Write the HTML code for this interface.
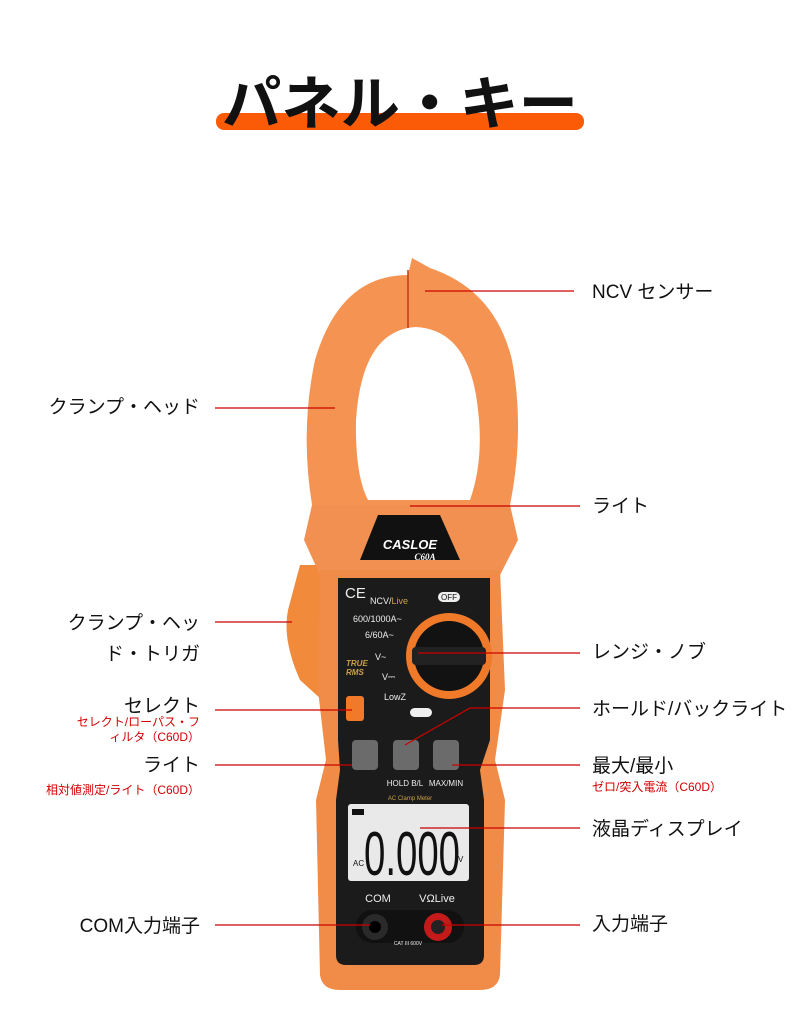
<!DOCTYPE html>
<html><head><meta charset="utf-8"><style>
html,body{margin:0;padding:0;background:#fff}
svg{display:block}
.l{font-family:"Liberation Sans","Noto Sans CJK JP",sans-serif;font-size:19px;fill:#111}
.r{font-family:"Liberation Sans","Noto Sans CJK JP",sans-serif;font-size:12px;fill:#d20000}
.w{font-family:"Liberation Sans",sans-serif;fill:#eee}
</style></head><body>
<svg width="800" height="1014" viewBox="0 0 800 1014" xmlns="http://www.w3.org/2000/svg">
<rect x="216" y="113" width="368" height="17" rx="8" fill="#fb5a06"/>
<text x="222" y="124" textLength="356" lengthAdjust="spacingAndGlyphs" font-family="Liberation Sans,'Noto Sans CJK JP',sans-serif" font-weight="bold" font-size="58" fill="#111">パネル・キー</text>

<!-- trigger -->
<path d="M300 565 L322 565 L322 700 L300 680 Q282 640 288 610 Z" fill="#f28a3c"/>
<!-- jaws -->
<path d="M408 275 Q340 275 315 360 Q300 430 312 505 L510 505 Q525 430 512 360 Q495 290 430 268 L412 258 Z" fill="#f59452"/>
<path d="M416 327 Q362 330 356 420 Q355 475 368 500 L470 500 Q484 460 478 410 Q470 330 416 327 Z" fill="#fff"/>
<line x1="408" y1="270" x2="408" y2="328" stroke="#c23a10" stroke-width="1.5"/>
<!-- head -->
<path d="M312 505 L510 505 L518 540 L500 575 L320 575 L304 540 Z" fill="#f19050"/>
<path d="M378 515 L440 515 L460 560 L360 560 Z" fill="#111"/>
<text x="410" y="549" text-anchor="middle" font-family="Liberation Sans,sans-serif" font-weight="bold" font-style="italic" font-size="13" fill="#fff">CASLOE</text>
<text x="425" y="560" text-anchor="middle" font-family="Liberation Serif,serif" font-weight="bold" font-style="italic" font-size="9" fill="#fff">C60A</text>
<!-- body -->
<path d="M320 570 L500 570 L505 690 L495 760 L505 800 L500 975 Q498 990 480 990 L340 990 Q322 990 320 975 L316 800 L326 760 L318 690 Z" fill="#f08c48"/>
<path d="M338 578 L490 578 L490 740 L480 770 L484 800 L484 955 Q484 965 474 965 L346 965 Q336 965 336 955 L336 800 L340 770 L338 740 Z" fill="#1b1b1b"/>
<text x="345" y="598" class="w" font-size="15">CE</text>
<text x="370" y="604" class="w" font-size="9">NCV/<tspan fill="#c9a14a">Live</tspan></text>
<rect x="438" y="592" width="22" height="10" rx="5" fill="#eee"/><text x="449" y="600" text-anchor="middle" font-family="Liberation Sans" font-size="8" fill="#111">OFF</text>
<text x="353" y="622" class="w" font-size="9">600/1000A~</text>
<text x="365" y="638" class="w" font-size="9">6/60A~</text>
<text x="375" y="660" class="w" font-size="9">V~</text>
<text x="382" y="680" class="w" font-size="9">V⎓</text>
<text x="384" y="700" class="w" font-size="9">LowZ</text>
<text x="346" y="666" font-family="Liberation Sans" font-style="italic" font-weight="bold" font-size="8" fill="#c9a14a">TRUE</text>
<text x="346" y="675" font-family="Liberation Sans" font-style="italic" font-weight="bold" font-size="8" fill="#c9a14a">RMS</text>
<rect x="410" y="708" width="22" height="9" rx="4.5" fill="#eee"/>
<!-- dial -->
<circle cx="449" cy="656" r="43" fill="#f07a2a"/>
<circle cx="449" cy="656" r="35" fill="#121212"/>
<rect x="412" y="647" width="74" height="18" rx="4" fill="#222"/>
<!-- buttons -->
<rect x="346" y="696" width="18" height="25" rx="3" fill="#f07a2a"/>
<rect x="352" y="740" width="26" height="30" rx="4" fill="#6b6b6b"/>
<rect x="393" y="740" width="26" height="30" rx="4" fill="#6b6b6b"/>
<rect x="433" y="740" width="26" height="30" rx="4" fill="#6b6b6b"/>
<text x="405" y="786" text-anchor="middle" class="w" font-size="8">HOLD B/L</text>
<text x="446" y="786" text-anchor="middle" class="w" font-size="8">MAX/MIN</text>
<text x="410" y="800" text-anchor="middle" font-family="Liberation Sans" font-size="6" fill="#c9a14a">AC Clamp Meter</text>
<!-- LCD -->
<rect x="348" y="804" width="121" height="77" rx="3" fill="#e9e9e9"/>
<text x="364" y="875" font-family="Liberation Sans" font-size="62" fill="#111" textLength="96" lengthAdjust="spacingAndGlyphs">0.000</text>
<text x="353" y="866" font-family="Liberation Sans" font-size="8" fill="#111">AC</text>
<text x="458" y="862" font-family="Liberation Sans" font-size="8" fill="#111">V</text>
<rect x="352" y="809" width="12" height="6" fill="#111"/>
<!-- jacks -->
<text x="378" y="902" text-anchor="middle" class="w" font-size="11">COM</text>
<text x="437" y="902" text-anchor="middle" class="w" font-size="11">VΩLive</text>
<rect x="356" y="910" width="108" height="33" rx="16" fill="#111"/>
<circle cx="375" cy="927" r="13" fill="#2a2a2a"/><circle cx="375" cy="927" r="6" fill="#000"/>
<circle cx="438" cy="927" r="14" fill="#c41a1a"/><circle cx="438" cy="927" r="7" fill="#222"/>
<text x="408" y="945" text-anchor="middle" class="w" font-size="5">CAT III 600V</text>

<!-- leader lines -->
<g stroke="#c00" stroke-width="1.2" fill="none">
<line x1="425" y1="291" x2="574" y2="291"/>
<line x1="215" y1="408" x2="335" y2="408"/>
<line x1="410" y1="506" x2="580" y2="506"/>
<line x1="215" y1="622" x2="292" y2="622"/>
<line x1="418" y1="653" x2="580" y2="653"/>
<line x1="215" y1="710" x2="352" y2="710"/>
<polyline points="405,745 470,708 580,708"/>
<line x1="215" y1="765" x2="352" y2="765"/>
<line x1="452" y1="765" x2="580" y2="765"/>
<line x1="420" y1="828" x2="580" y2="828"/>
<line x1="215" y1="925" x2="370" y2="925"/>
<line x1="442" y1="925" x2="580" y2="925"/>
</g>
<!-- labels -->
<text x="592" y="298" class="l">NCV センサー</text>
<text x="200" y="413" class="l" text-anchor="end">クランプ・ヘッド</text>
<text x="592" y="512" class="l">ライト</text>
<text x="200" y="629" class="l" text-anchor="end">クランプ・ヘッ</text>
<text x="200" y="660" class="l" text-anchor="end">ド・トリガ</text>
<text x="592" y="658" class="l">レンジ・ノブ</text>
<text x="200" y="712" class="l" text-anchor="end">セレクト</text>
<text x="200" y="726" class="r" text-anchor="end">セレクト/ローパス・フ</text>
<text x="200" y="741" class="r" text-anchor="end">ィルタ（C60D）</text>
<text x="592" y="715" class="l">ホールド/バックライト</text>
<text x="200" y="771" class="l" text-anchor="end">ライト</text>
<text x="200" y="794" class="r" text-anchor="end">相対値測定/ライト（C60D）</text>
<text x="592" y="772" class="l">最大/最小</text>
<text x="592" y="791" class="r">ゼロ/突入電流（C60D）</text>
<text x="592" y="835" class="l">液晶ディスプレイ</text>
<text x="200" y="932" class="l" text-anchor="end">COM入力端子</text>
<text x="592" y="930" class="l">入力端子</text>
</svg>
</body></html>
